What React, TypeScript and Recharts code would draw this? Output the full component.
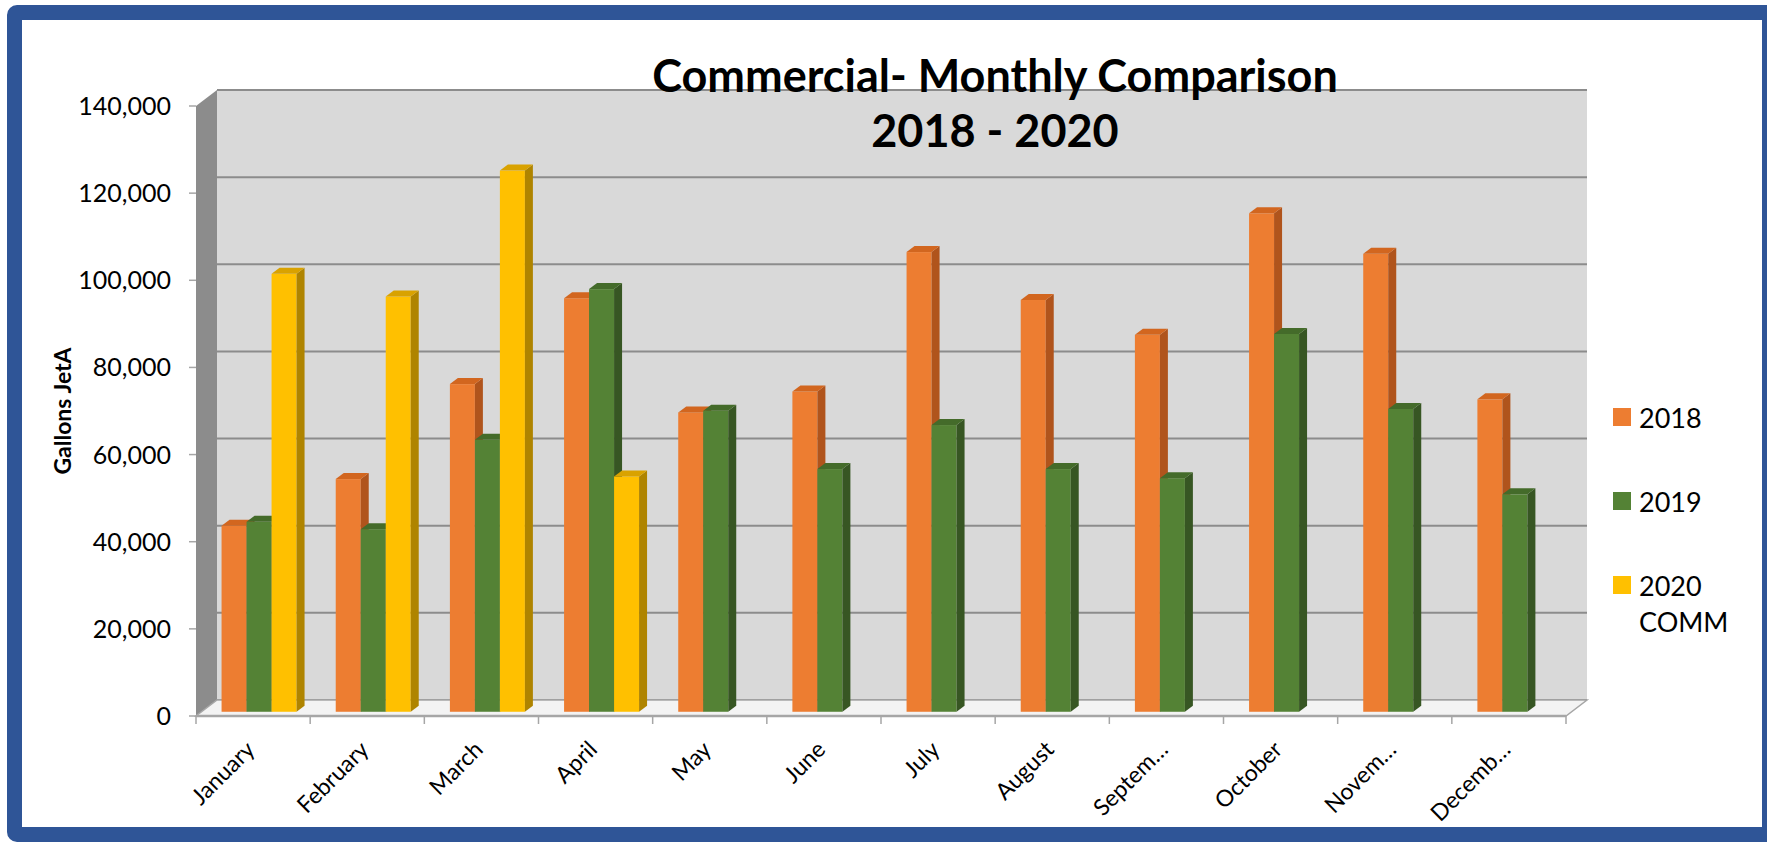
import React from 'react';
import { BarChart, Bar, XAxis, YAxis, CartesianGrid, ReferenceArea } from 'recharts';

const months = ['January', 'February', 'March', 'April', 'May', 'June', 'July', 'August', 'September', 'October', 'November', 'December'];
const tickLabels = ['January', 'February', 'March', 'April', 'May', 'June', 'July', 'August', 'Septem…', 'October', 'Novem…', 'Decemb…'];
const gallons2018 = [42700, 53400, 75200, 94900, 68700, 73500, 105500, 94500, 86500, 114400, 105100, 71700];
const gallons2019 = [43600, 41900, 62400, 97000, 69100, 55700, 65800, 55700, 53600, 86700, 69500, 49900];
const gallons2020 = [100500, 95300, 124200, 54000, null, null, null, null, null, null, null, null];
const yTicks = [0, 20000, 40000, 60000, 80000, 100000, 120000, 140000];
const seriesKeys = ['y2018', 'y2019', 'y2020'];
const seriesNames = ['2018', '2019', '2020 COMM'];

// front / side / top face colours per series
const faceColors = [
    { front: '#ED7D31', side: '#B0541C', top: '#D2661F' },
    { front: '#548235', side: '#375623', top: '#446B2A' },
    { front: '#FFC000', side: '#AF8400', top: '#D9A200' },
];

const W = 1767;
const H = 845;
const FONT = 'Lato, "Open Sans", sans-serif';
const AXIS_GREY = '#a6a6a6';

// depth of the 3d box (back wall -> front edge)
const DEPTH_X = 21;
const DEPTH_Y = 16;
const BAR_DEPTH = 0.735; // where the bars sit between back wall and front edge
const BAR_SIDE_X = 8;
const BAR_SIDE_Y = 6;

const data = months.map((m, i) => ({
    month: m,
    y2018: gallons2018[i],
    y2019: gallons2019[i],
    y2020: gallons2020[i],
}));

// side wall + floor, hung off the plot rect
function Walls(props: any) {
    const { x, y, width, height } = props;
    const b = y + height;
    const fx = x - DEPTH_X;
    const fb = b + DEPTH_Y;
    return (
        <g>
            <polygon points={`${x},${y} ${x},${b} ${fx},${fb} ${fx},${y + DEPTH_Y}`} fill="#8c8c8c" />
            <polygon
                points={`${x},${b} ${x + width},${b} ${x + width - DEPTH_X},${fb} ${fx},${fb}`}
                fill="#f3f3f3"
                stroke={AXIS_GREY}
                strokeWidth={1.5}
            />
            <line x1={fx} y1={fb} x2={x + width - DEPTH_X} y2={fb} stroke={AXIS_GREY} strokeWidth={2.5} />
        </g>
    );
}

function makeBar3D(colors: { front: string; side: string; top: string }) {
    return (props: any) => {
        const { x, y, width, height } = props;
        if (!height || height <= 0) return <g />;
        const x0 = x - DEPTH_X * BAR_DEPTH;
        const y0 = y + DEPTH_Y * BAR_DEPTH;
        const x1 = x0 + width;
        const y1 = y0 + height;
        return (
            <g>
                <rect x={x0} y={y0} width={width} height={height} fill={colors.front} />
                <polygon
                    points={`${x1},${y0} ${x1 + BAR_SIDE_X},${y0 - BAR_SIDE_Y} ${x1 + BAR_SIDE_X},${y1 - BAR_SIDE_Y} ${x1},${y1}`}
                    fill={colors.side}
                />
                <polygon
                    points={`${x0},${y0} ${x0 + BAR_SIDE_X},${y0 - BAR_SIDE_Y} ${x1 + BAR_SIDE_X},${y0 - BAR_SIDE_Y} ${x1},${y0}`}
                    fill={colors.top}
                />
            </g>
        );
    };
}

// x ticks: marks on the band edges of the front edge, rotated labels
function MonthTick(props: any) {
    const { x, y, payload } = props;
    const idx = months.indexOf(payload.value);
    const half = payload.offset || 57;
    const fx = x - DEPTH_X;
    const fy = y + DEPTH_Y;
    const tx = fx + 3;
    const ty = fy + 35;
    return (
        <g>
            <line x1={fx - half} y1={fy} x2={fx - half} y2={fy + 8} stroke={AXIS_GREY} strokeWidth={1.5} />
            {idx === months.length - 1 && (
                <line x1={fx + half} y1={fy} x2={fx + half} y2={fy + 8} stroke={AXIS_GREY} strokeWidth={1.5} />
            )}
            <text
                x={tx}
                y={ty}
                textAnchor="end"
                transform={`rotate(-45 ${tx} ${ty})`}
                fontSize={23}
                fontFamily={FONT}
                fill="#000"
            >
                {tickLabels[idx]}
            </text>
        </g>
    );
}

// y ticks on the front edge of the side wall
function ValueTick(props: any) {
    const { x, y, payload } = props;
    const fx = x - DEPTH_X;
    const fy = y + DEPTH_Y;
    return (
        <g>
            <line x1={fx - 7} y1={fy} x2={fx} y2={fy} stroke={AXIS_GREY} strokeWidth={1.5} />
            <text x={fx - 25} y={fy} dy="0.36em" textAnchor="end" fontSize={25} fontFamily={FONT} fill="#000">
                {Number(payload.value).toLocaleString('en-US')}
            </text>
        </g>
    );
}

export default function App() {
    return (
        <div style={{ position: 'absolute', left: 0, top: 0, width: W, height: H, background: '#fff', overflow: 'hidden' }}>
            <div
                style={{
                    position: 'absolute',
                    left: 7,
                    top: 5,
                    width: W - 7 + 10,
                    height: 842 - 5,
                    boxSizing: 'border-box',
                    border: '15px solid #2F5597',
                    borderRadius: 10,
                }}
            />
            <div style={{ position: 'absolute', left: 0, top: 0 }}>
                <BarChart
                    width={W}
                    height={H}
                    data={data}
                    margin={{ top: 90, right: 180, bottom: 45, left: 157 }}
                    barSize={25}
                    barGap={0}
                >
                    <CartesianGrid vertical={false} fill="#d9d9d9" fillOpacity={1} stroke="#8c8c8c" strokeWidth={2} />
                    <ReferenceArea y1={0} y2={140000} ifOverflow="visible" fillOpacity={0} shape={(p: any) => <Walls {...p} />} />
                    <XAxis
                        dataKey="month"
                        interval={0}
                        height={100}
                        tickSize={0}
                        tickMargin={0}
                        tickLine={false}
                        axisLine={false}
                        tick={<MonthTick />}
                    />
                    <YAxis
                        width={60}
                        domain={[0, 140000]}
                        ticks={yTicks}
                        interval={0}
                        axisLine={false}
                        tickSize={0}
                        tickMargin={0}
                        tickLine={false}
                        tick={<ValueTick />}
                    />
                    {seriesKeys.map((k, i) => (
                        <Bar key={k} dataKey={k} name={seriesNames[i]} isAnimationActive={false} shape={makeBar3D(faceColors[i])} />
                    ))}
                </BarChart>
            </div>
            <div
                style={{
                    position: 'absolute',
                    left: 995 - 400,
                    top: 48,
                    width: 800,
                    textAlign: 'center',
                    fontFamily: FONT,
                    fontWeight: 700,
                    fontSize: 45,
                    lineHeight: '55px',
                    color: '#000',
                }}
            >
                Commercial- Monthly Comparison
                <br />
                2018 - 2020
            </div>
            <div
                style={{
                    position: 'absolute',
                    left: 62 - 100,
                    top: 411 - 14,
                    width: 200,
                    height: 28,
                    lineHeight: '28px',
                    textAlign: 'center',
                    transform: 'rotate(-90deg)',
                    fontFamily: FONT,
                    fontWeight: 700,
                    fontSize: 23,
                    color: '#000',
                }}
            >
                Gallons JetA
            </div>
            {seriesNames.map((name, i) => (
                <div
                    key={name}
                    style={{
                        position: 'absolute',
                        left: 1613,
                        top: 400 + i * 84,
                        width: 120,
                        display: 'flex',
                        alignItems: 'flex-start',
                        fontFamily: FONT,
                        fontSize: 27,
                        lineHeight: '36px',
                        color: '#000',
                    }}
                >
                    <span style={{ display: 'inline-block', width: 18, height: 18, marginTop: 8, marginRight: 8, background: faceColors[i].front, flex: 'none' }} />
                    <span style={{ width: 90 }}>{name}</span>
                </div>
            ))}
        </div>
    );
}
